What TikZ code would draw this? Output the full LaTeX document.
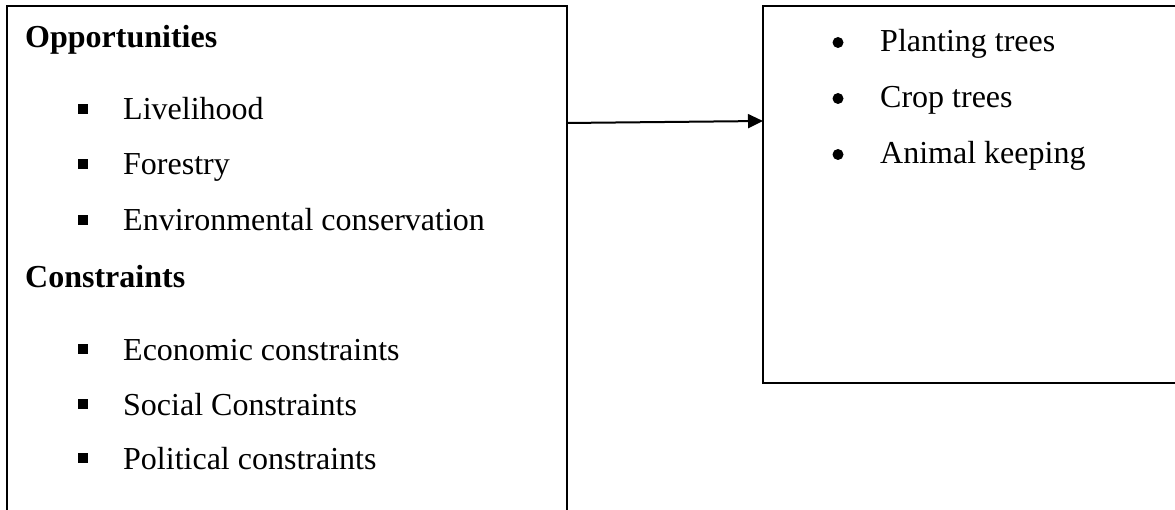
\documentclass[tikz,border=0pt]{standalone}
\usepackage{fontspec}
\setmainfont{Liberation Serif}
\usetikzlibrary{arrows.meta}
\begin{document}
\begin{tikzpicture}[x=1pt,y=-1pt,
  box/.style={draw, line width=2pt, anchor=north west, inner sep=0pt, outer sep=0pt},
  txt/.style={anchor=base west, inner sep=0pt, font=\fontsize{32}{38}\selectfont},
  head/.style={txt, font=\fontsize{32}{38}\selectfont\bfseries},
  sq/.style={fill=black, inner sep=0pt, minimum size=9.5pt, anchor=south west},
  dot/.style={circle, fill=black, inner sep=0pt, minimum size=11pt},
  conn/.style={line width=2pt, -{Triangle[length=15pt,width=14pt]}}]
\useasboundingbox (0,0) rectangle (1175,510);
\clip (0,0) rectangle (1175,510);
\fill[white] (0,0) rectangle (1175,510);
% left box
\node[box, minimum width=560pt, minimum height=530pt] (L) at (7,6) {};
% right box
\node[box, minimum width=430pt, minimum height=377pt] (R) at (763,6) {};
% left texts
\node[head] (op) at (25,48) {Opportunities};
\node[sq] (b1) at (78,114) {};
\node[txt] (t1) at (123,120) {Livelihood};
\node[sq] (b2) at (78,169) {};
\node[txt] (t2) at (123,175) {Forestry};
\node[sq] (b3) at (78,225) {};
\node[txt] (t3) at (123,231) {Environmental conservation};
\node[head] (co) at (25,288) {Constraints};
\node[sq] (b4) at (78,354) {};
\node[txt] (t4) at (123,360) {Economic constraints};
\node[sq] (b5) at (78,409) {};
\node[txt] (t5) at (123,415) {Social Constraints};
\node[sq] (b6) at (78,463) {};
\node[txt] (t6) at (123,469) {Political constraints};
% right texts
\node[dot] (d1) at (838,42.5) {};
\node[txt] (r1) at (880,52) {Planting trees};
\node[dot] (d2) at (838,98.5) {};
\node[txt] (r2) at (880,108) {Crop trees};
\node[dot] (d3) at (838,154.5) {};
\node[txt] (r3) at (880,164) {Animal keeping};
% connector
\draw[conn] (L.north east |- 0,123) -- (R.north west |- 0,121);
\end{tikzpicture}
\end{document}
